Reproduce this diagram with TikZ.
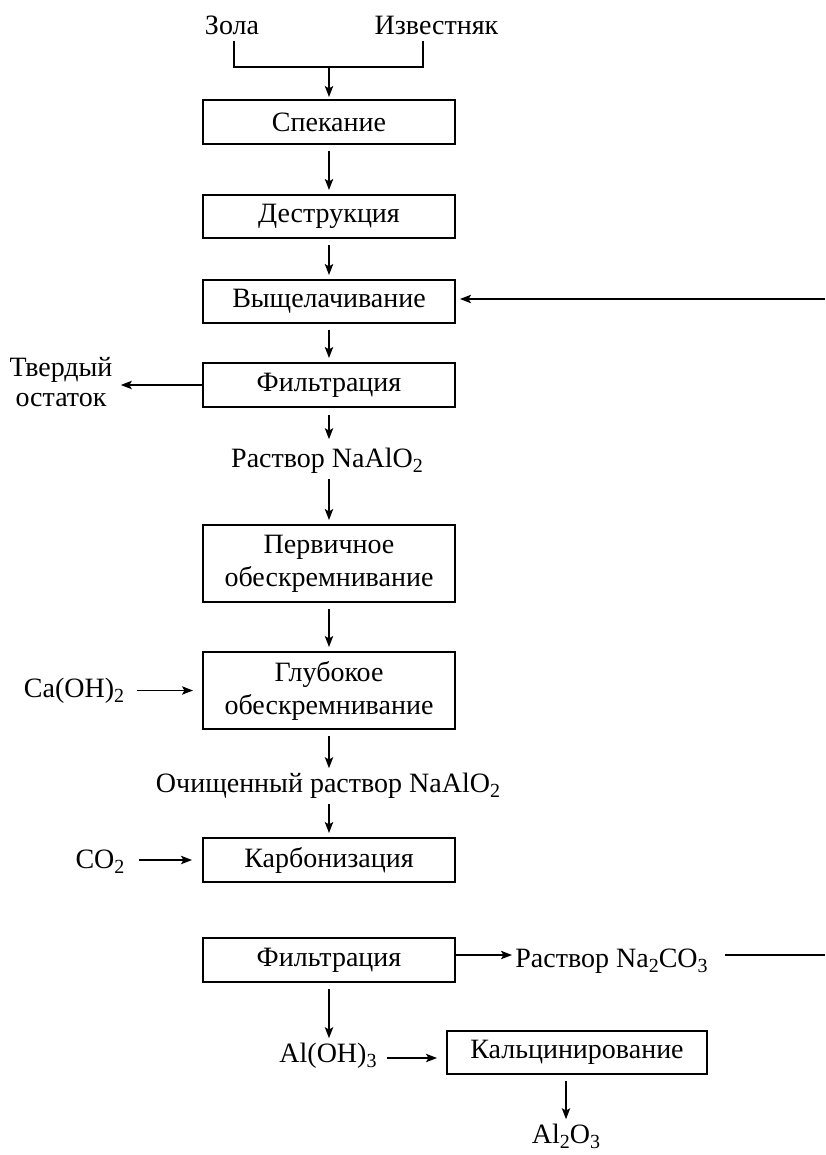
\documentclass[tikz,border=0pt]{standalone}
\usepackage{fontspec}
\setmainfont{Liberation Serif}
\usetikzlibrary{arrows.meta,calc}
\newcommand{\sbs}[1]{\raisebox{-0.21em}{\fontsize{10}{10}\selectfont #1}}
\begin{document}
\begin{tikzpicture}[x=0.5pt,y=-0.5pt,
  font=\fontsize{14}{16.5}\selectfont,
  box/.style={draw, line width=1pt, minimum width=126pt, minimum height=22pt, inner sep=0pt, align=center},
  box2/.style={box, minimum height=38.5pt},
  lbl/.style={inner sep=0pt, anchor=base},
  ln/.style={line width=0.6pt},
  arr/.style={ln, -{Stealth[length=5.5pt,width=4.2pt,inset=1.2pt]}},
  varr/.style={arr, shorten <=3pt, shorten >=2pt}]
\useasboundingbox (0,0) rectangle (825,1155);
% process boxes
\node[box] (spek) at (329,122) {Спекание};
\node[box, minimum height=21.5pt] (destr) at (329,216.5) {Деструкция};
\node[box, minimum height=21.5pt] (vysh) at (329,301.5) {Выщелачивание};
\node[box] (filt1) at (329,385) {Фильтрация};
\node[box2] (perv) at (329,563.5) {Первичное\\обескремнивание};
\node[box2] (glub) at (329,690.5) {Глубокое\\обескремнивание};
\node[box] (karb) at (329,860) {Карбонизация};
\node[box] (filt2) at (329,960) {Фильтрация};
\node[box, minimum width=130pt, minimum height=21.5pt] (kalc) at (577,1052.5) {Кальцинирование};
% text labels
\node[lbl] (zola) at (232,35) {Зола};
\node[lbl] (izv) at (436.5,35) {Известняк};
\node[inner sep=0pt, align=center, font=\fontsize{14}{15}\selectfont] (tverd) at (61,382) {Твердый\\остаток};
\node[lbl] (rast1) at (327,467) {Раствор NaAlO\sbs{2}};
\node[lbl] (caoh) at (74,697) {Ca(OH)\sbs{2}};
\node[lbl] (ochi) at (328,792) {Очищенный раствор NaAlO\sbs{2}};
\node[lbl] (co2) at (100,868) {CO\sbs{2}};
\node[lbl, anchor=base west] (rast2) at (515,967) {Раствор Na\sbs{2}CO\sbs{3}};
\node[lbl] (aloh) at (328,1062) {Al(OH)\sbs{3}};
\node[lbl] (al2o3) at (566,1143) {Al\sbs{2}O\sbs{3}};
% helper coordinates
\coordinate (m) at (329,67);
\coordinate (r1) at (825,299);
\coordinate (r2) at (825,955);
\coordinate (ya) at (0,1058);
% connectors
\draw[ln] ([xshift=1pt,yshift=-2.5pt]zola.south) |- (m) -| ([xshift=-6.75pt,yshift=-2.5pt]izv.south);
\draw[arr, shorten >=1pt] (m) -- (spek.north);
\draw[varr] (spek) -- (destr);
\draw[varr] (destr) -- (vysh);
\draw[varr] (vysh) -- (filt1);
\draw[arr, shorten >=4pt] (filt1.west) -- (tverd.east |- filt1.west);
\draw[varr, shorten <=3.5pt, shorten >=4pt] (filt1.south) -- (filt1.south |- rast1.north);
\draw[varr] (perv.north |- rast1.south) -- (perv.north);
\draw[varr] (perv) -- (glub);
\draw[arr, shorten <=6.5pt, shorten >=4.5pt] (caoh.east |- glub.west) -- (glub.west);
\draw[varr] (glub.south) -- (glub.south |- ochi.north);
\draw[varr] (karb.north |- ochi.south) -- (karb.north);
\draw[arr, shorten <=7pt, shorten >=5pt] (co2.east |- karb.west) -- (karb.west);
\draw[arr, shorten >=2pt] (r1) -- (r1 -| vysh.east);
\draw[arr, shorten >=1.5pt] (filt2.east |- r2) -- (rast2.west |- r2);
\draw[ln, shorten <=8.5pt] (rast2.east |- r2) -- (r2);
\draw[varr] (filt2.south) -- (filt2.south |- aloh.north);
\draw[arr, shorten <=5pt, shorten >=4.5pt] (aloh.east |- ya) -- (kalc.west |- ya);
\draw[varr] (al2o3.north |- kalc.south) -- (al2o3.north);
\end{tikzpicture}
\end{document}
